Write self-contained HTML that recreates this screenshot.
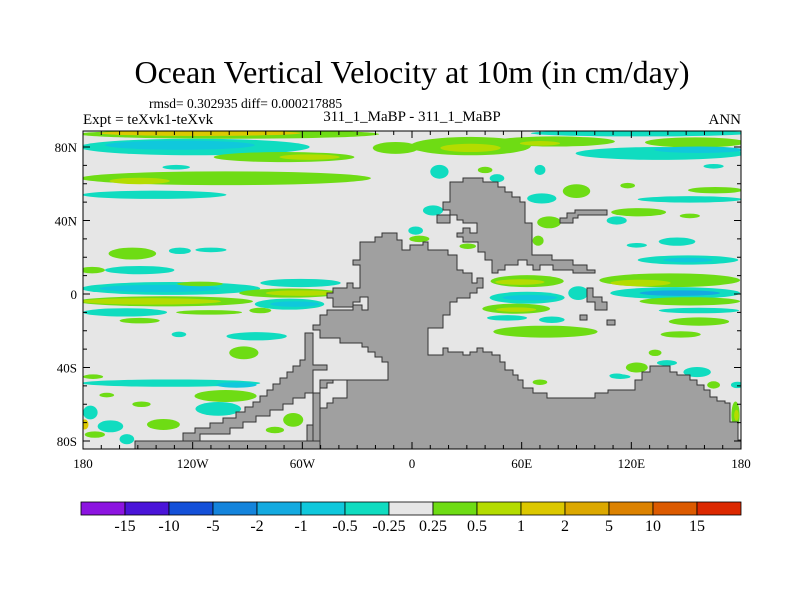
<!DOCTYPE html>
<html><head><meta charset="utf-8">
<style>
html,body{margin:0;padding:0;background:#fff;}
svg{display:block;font-family:"Liberation Serif",serif;}
</style></head>
<body>
<svg id="chart" width="800" height="600" viewBox="0 0 800 600" xmlns="http://www.w3.org/2000/svg">
  <text x="412" y="83" text-anchor="middle" font-size="32">Ocean Vertical Velocity at 10m (in cm/day)</text>
  <text x="149" y="108" font-size="13.5">rmsd= 0.302935 diff= 0.000217885</text>
  <text x="83" y="124" font-size="15">Expt = teXvk1-teXvk</text>
  <text x="412" y="121" text-anchor="middle" font-size="15">311_1_MaBP - 311_1_MaBP</text>
  <text x="741" y="124" text-anchor="end" font-size="15">ANN</text>
  <defs><clipPath id="plotclip"><rect x="83" y="131" width="658" height="318"/></clipPath></defs>
  <rect x="83" y="131" width="658" height="318" fill="#e6e6e6"/>
  <g id="blobs" clip-path="url(#plotclip)"></g>
  <g id="land" clip-path="url(#plotclip)" fill="#a0a0a0" stroke="#333" stroke-width="1">
    <path fill-rule="evenodd" d="M382,233 L397,233 L397,240 L402,240 L402,250 L410,250 L410,245 L423,245 L423,242 L428,242 L428,250 L448,250 L448,255 L457,255 L457,270 L463,270 L463,273 L472,273 L472,283 L477,283 L477,278 L483,278 L483,288 L477,288 L477,293 L470,293 L470,298 L457,298 L457,302 L450,302 L450,315 L443,315 L443,328 L428,328 L428,355 L443,355 L443,348 L448,348 L448,352 L463,352 L463,355 L470,355 L470,352 L477,352 L477,348 L483,348 L483,352 L492,352 L492,355 L500,355 L500,362 L505,362 L505,370 L513,370 L513,375 L518,375 L518,380 L523,380 L523,388 L533,388 L533,393 L547,393 L547,398 L595,398 L595,393 L608,393 L608,390 L635,390 L635,380 L642,380 L642,372 L650,372 L650,366 L670,366 L670,372 L677,372 L677,375 L690,375 L690,380 L697,380 L697,385 L704,385 L704,390 L710,390 L710,397 L717,397 L717,401 L725,401 L725,403 L730,403 L730,422 L738,422 L738,440 L745,440 L745,452 L320,452 L320,445 L307,445 L307,425 L313,425 L313,417 L320,417 L320,408 L327,408 L327,403 L333,403 L333,398 L347,398 L347,380 L388,380 L388,362 L382,362 L382,357 L375,357 L375,352 L368,352 L368,347 L362,347 L362,343 L340,343 L340,338 L320,338 L320,330 L313,330 L313,325 L320,325 L320,315 L327,315 L327,310 L353,310 L353,305 L362,305 L362,310 L368,310 L368,297 L360,297 L360,302 L353,302 L353,307 L333,307 L333,298 L327,298 L327,293 L333,293 L333,288 L347,288 L347,283 L353,283 L353,288 L360,288 L360,265 L353,265 L353,260 L360,260 L360,242 L375,242 L375,237 L382,237 Z"/>
    <path d="M347,380 L333,380 L333,383 L327,383 L327,388 L320,388 L320,393 L313,393 L313,445 L320,445 L320,380 Z"/>
    <path d="M183,433 L195,433 L195,428 L210,428 L210,423 L223,423 L223,418 L236,418 L236,412 L245,412 L245,407 L253,407 L253,402 L260,402 L260,396 L267,396 L267,390 L273,390 L273,384 L280,384 L280,378 L287,378 L287,372 L293,372 L293,366 L300,366 L300,360 L305,360 L305,333 L313,333 L313,365 L327,365 L327,370 L313,370 L313,393 L305,393 L305,398 L293,398 L293,404 L283,404 L283,410 L270,410 L270,416 L256,416 L256,422 L243,422 L243,428 L230,428 L230,434 L200,434 L200,441 L183,441 Z"/>
    <path d="M135,441 L320,441 L320,452 L135,452 Z"/>
    <path d="M450,182 L463,182 L463,178 L483,178 L483,182 L498,182 L498,187 L505,187 L505,192 L512,192 L512,197 L520,197 L520,202 L525,202 L525,223 L532,223 L532,255 L552,255 L552,260 L573,260 L573,265 L587,265 L587,270 L595,270 L595,273 L573,273 L573,270 L553,270 L553,265 L540,265 L540,270 L533,270 L533,265 L527,265 L527,260 L518,260 L518,265 L505,265 L505,270 L498,270 L498,273 L492,273 L492,260 L485,260 L485,252 L478,252 L478,242 L463,242 L463,237 L457,237 L457,233 L463,233 L463,228 L470,228 L470,233 L477,233 L477,223 L463,223 L463,220 L457,220 L457,215 L450,215 L450,210 L443,210 L443,202 L450,202 Z"/>
    <path d="M437,215 L450,215 L450,223 L437,223 Z"/>
    <path d="M560,218 L567,218 L567,213 L575,213 L575,210 L607,210 L607,215 L578,215 L578,218 L573,218 L573,223 L560,223 Z"/>
    <path d="M587,288 L593,288 L593,297 L602,297 L602,302 L607,302 L607,310 L595,310 L595,302 L587,302 Z"/>
    <path d="M580,315 L587,315 L587,320 L580,320 Z"/>
    <path d="M607,320 L615,320 L615,325 L607,325 Z"/>
  </g>
  <rect x="83" y="131" width="658" height="318" fill="none" stroke="#000" stroke-width="1"/>
  <g id="axes"></g>
  <g id="colorbar"></g>
</svg>
<script>
// colour levels (cm/day)
const levelBounds = [-15,-10,-5,-2,-1,-0.5,-0.25,0.25,0.5,1,2,5,10,15];
const levelColors = ["#8c14e0","#4a14d8","#1450d8","#1484dc","#14aae0","#10c8dc","#10dcc0","#e6e6e6","#6edc14","#b4dc00","#dcc800","#dca800","#dc8200","#dc5a00","#dc2800"];
const xTickLon = [-180,-120,-60,0,60,120,180];
const xTickLabels = ["180","120W","60W","0","60E","120E","180"];
const yTickLat = [80,40,0,-40,-80];
const yTickLabels = ["80N","40N","0","40S","80S"];
// contour features: centre lon, centre lat, extent in lon, extent in lat
const blobLon = [-100,-116,-119,-127,-70,-56,-102,-149,-141,-129,-153,-127,-110,-149,-175,-132,-138,-116,-135,-143,-157,-149,-111,-61,-67,-61,-67,-64,-83,-9,32,32,78,70,125,155,136,157,15,165,40,46.5,70,90,71,118,166,152,11.5,2,75,124,152,112,69,123,145,151,151,4,30.5,63,59,63,64.5,57,57,52,141,125,144,146.5,152,157,157,91,73,76.5,70,114,-85,-92,-127.5,-132,-96,-102,-106,-148,-167,-174.5,-176,-165,-136,-156,-179,-173.5,-65,-75,123,139.5,156,133,112,165,178,177,177.5,147];
const blobLat = [87,87.5,80,81,74.5,74.5,63,61.5,54,69,22,23.5,24,13,13,3,3,5.5,-4,-4,-10,-14.5,-10,6,0.5,0.5,-5.5,-5.5,-9,79.5,80.5,79.5,83,82,87.5,82.5,76.5,78.5,66.5,69.5,67.5,63,67.5,56,52,59,56.5,51.5,45.5,34.5,39,44.5,42.5,40,29,26.5,28.5,18.5,18.5,30,26,7,6.5,-2,-2,-8,-8.5,-13,7.5,6,0.5,0.5,-4,-9,-15,0.5,-20.5,-14,-48,-45,-23,-32,-22,-48.5,-49.5,-55.5,-62.5,-60,-55,-45,-64.5,-72,-71,-79,-71,-76.5,-68.5,-74,-40,-37.5,-42.5,-32,-44.5,-49.5,-49.5,-66,-66,-22];
const blobSpanLon = [164,110,126,82,77,33,159,33,79,15,26,12,17,38,14,98,66,25,96,77,46,22,36,44,55,38,38,27,12,25,66,33,66,22,120,55,93,49,10,11,8,8,6,15,16,8,30,57,11,8,13,30,11,11,6,11,20,55,27,11,9,40,27,41,30,37,22,22,77,33,71,44,55,44,33,11,57,14,8,11,33,16,8,98,22,34,25,10,8,11,8,14,18,8,4,11,11,10,12,11,15,7,8,7,7,4.5,2.5,22];
const blobSpanLat = [5,3,9,5,5.5,3,7.5,3.5,4.5,2.5,6.5,3.5,2.5,4.5,3.5,7,4,2.5,5.5,3.5,4.5,3,2.5,4.5,5,3,6,3,3,6.5,10,4.5,5.5,2.5,3.5,5.5,7,3.5,7.5,2.5,3.5,4.5,5.5,7.5,5.5,3,3.5,3.5,5.5,4.5,6.5,4.5,2.5,4.5,5.5,2.5,4.5,5,2.5,3.5,3,6.5,3,6.5,3,5.5,2.5,3,7.5,3.5,6.5,3,4.5,3,4.5,7.5,6.5,3.5,3,2.5,4.5,7,3,4,3,6.5,7.5,3,2.5,2.5,7.5,6.5,6,5.5,5.5,3.5,7.5,3.5,5.5,3,5.5,3.5,2.5,4,3.5,15,6,3.5];
const blobValue = [0.4,1.5,-0.4,-0.7,0.4,0.7,0.4,0.7,-0.4,-0.4,0.4,-0.4,-0.4,-0.5,0.4,-0.5,-0.8,0.4,0.4,0.7,-0.5,0.4,0.4,-0.5,0.4,0.7,-0.5,-0.8,0.4,0.4,0.4,0.7,0.4,0.7,-0.5,0.4,-0.5,-0.8,-0.4,-0.4,0.4,-0.4,-0.4,0.4,-0.4,0.4,0.4,-0.4,-0.4,-0.4,0.4,0.4,0.4,-0.4,0.4,-0.4,-0.4,-0.5,-0.8,0.4,0.4,0.4,0.7,-0.5,-0.8,0.4,0.7,-0.4,0.4,0.7,-0.5,-1.2,0.4,-0.4,0.4,-0.4,0.4,-0.4,0.4,-0.4,-0.4,0.4,-0.4,-0.5,-0.8,0.4,-0.4,0.4,0.4,0.4,-0.4,-0.4,0.4,-0.4,1.5,0.4,0.4,0.4,0.4,-0.4,-0.4,0.4,-0.4,0.4,-0.4,0.4,0.7,0.4];

const NS = "http://www.w3.org/2000/svg";
const X0 = 83, X1 = 741;
function xScale(lon){ return X0 + (lon + 180) / 360 * (X1 - X0); }
function yScale(lat){ return 294 - lat * 1.8375; }
function colorFor(v){
  let i = 0;
  while (i < levelBounds.length && v >= levelBounds[i]) i++;
  return levelColors[i];
}
const blobs = document.getElementById('blobs');
for (let i = 0; i < blobLon.length; i++) {
  const e = document.createElementNS(NS, 'ellipse');
  e.setAttribute('cx', xScale(blobLon[i]));
  e.setAttribute('cy', yScale(blobLat[i]));
  e.setAttribute('rx', blobSpanLon[i] / 360 * (X1 - X0) / 2);
  e.setAttribute('ry', blobSpanLat[i] * 1.8375 / 2);
  e.setAttribute('fill', colorFor(blobValue[i]));
  
  
  blobs.appendChild(e);
}
const axes = document.getElementById('axes');
function line(x1,y1,x2,y2,name){
  const l = document.createElementNS(NS,'line');
  l.setAttribute('x1',x1); l.setAttribute('y1',y1); l.setAttribute('x2',x2); l.setAttribute('y2',y2);
  l.setAttribute('stroke','#000'); l.setAttribute('stroke-width','1');
  
  
  axes.appendChild(l);
}
for (let lon = -180; lon <= 180; lon += 10) {
  const x = xScale(lon), major = (lon % 60 === 0);
  const len = major ? 7 : 4;
  line(x, 131, x, 131 + len, 'x-tick-top');
  line(x, 449, x, 449 - len, 'x-tick-bottom');
}
for (let lat = -80; lat <= 80; lat += 10) {
  const y = yScale(lat), major = (lat % 40 === 0);
  const len = major ? 7 : 4;
  line(83, y, 83 + len, y, 'y-tick-left');
  line(741, y, 741 - len, y, 'y-tick-right');
}
xTickLon.forEach((lon, i) => {
  const t = document.createElementNS(NS,'text');
  t.setAttribute('x', xScale(lon)); t.setAttribute('y', 468);
  t.setAttribute('text-anchor','middle'); t.setAttribute('font-size','13');
  t.textContent = xTickLabels[i];
  
  
  axes.appendChild(t);
});
yTickLat.forEach((lat, i) => {
  const t = document.createElementNS(NS,'text');
  t.setAttribute('x', 77); t.setAttribute('y', yScale(lat) + 5);
  t.setAttribute('text-anchor','end'); t.setAttribute('font-size','13');
  t.textContent = yTickLabels[i];
  
  
  axes.appendChild(t);
});
const cb = document.getElementById('colorbar');
const cbX = 81, cbW = 44, cbY = 502, cbH = 13;
levelColors.forEach((c, i) => {
  const r = document.createElementNS(NS,'rect');
  r.setAttribute('x', cbX + i * cbW); r.setAttribute('y', cbY);
  r.setAttribute('width', cbW); r.setAttribute('height', cbH);
  r.setAttribute('fill', c); r.setAttribute('stroke','#000'); r.setAttribute('stroke-width','0.8');
  
  
  cb.appendChild(r);
});
levelBounds.forEach((v, i) => {
  const t = document.createElementNS(NS,'text');
  t.setAttribute('x', cbX + (i + 1) * cbW); t.setAttribute('y', 531);
  t.setAttribute('text-anchor','middle'); t.setAttribute('font-size','16');
  t.textContent = String(v);
  
  
  cb.appendChild(t);
});
</script>
</body></html>
